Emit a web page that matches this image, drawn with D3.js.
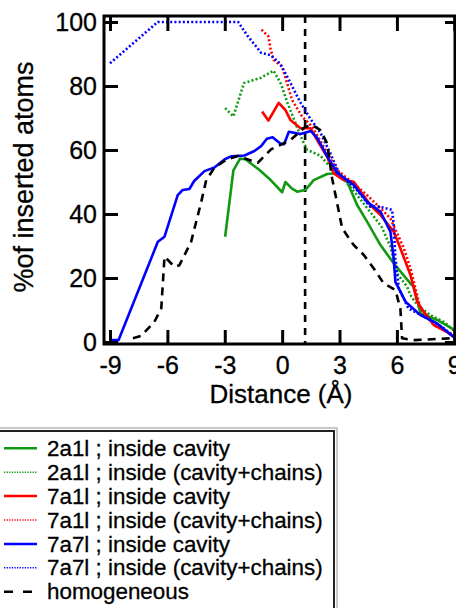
<!DOCTYPE html>
<html>
<head>
<meta charset="utf-8">
<script src="https://cdn.jsdelivr.net/npm/d3@7"></script>
<style>
  html, body { margin: 0; padding: 0; background: #fff; }
  svg { display: block; font-family: "Liberation Sans", Arial, Helvetica, sans-serif; }
  text { stroke: #000; stroke-width: 0.3px; }
</style>
</head>
<body>
<svg id="chart" width="456" height="608"></svg>
<script>
// ---------------- data ----------------
const xTicks = [-9, -6, -3, 0, 3, 6, 9];
const xTickLabels = ["-9", "-6", "-3", "0", "3", "6", "9"];
const yTicks = [0, 20, 40, 60, 80, 100];
const yTickLabels = ["0", "20", "40", "60", "80", "100"];
const xTitle = "Distance (Å)";
const yTitle = "%of inserted atoms";
const markerX = 1.2;

const green_cav_x = [-2.98, -2.55, -2.2, -1.92, -1.2, -0.6, 0, 0.17, 0.5, 0.78, 1.22, 1.65, 2.35, 2.9, 3.4, 3.92, 4.44, 5.14, 5.83, 6.7, 6.88, 7.23, 8.1, 9.05];
const green_cav_y = [32.9, 53.6, 57.3, 57.1, 53.8, 50.6, 46.8, 50.0, 48.0, 47.0, 47.5, 50.6, 52.5, 52.8, 50.1, 42.8, 37.6, 30.3, 24.6, 18.3, 17.3, 9.0, 6.9, 3.6];

const green_all_x = [-2.98, -2.55, -2.0, -1.1, -0.45, -0.05, 0.26, 0.96, 1.3, 2.0, 2.35, 2.79, 3.2, 3.92, 4.79, 5.2, 5.66, 6.0, 6.53, 6.7, 7.06, 7.75, 8.45, 9.05];
const green_all_y = [73.1, 70.5, 80.9, 82.6, 84.8, 80.5, 75.0, 64.4, 60.1, 58.2, 55.8, 53.7, 51.0, 45.9, 39.2, 36.0, 29.8, 21.5, 17.3, 14.7, 11.6, 8.4, 6.3, 3.2];

const red_cav_x = [-1.05, -0.72, -0.18, 0.17, 0.43, 0.96, 1.48, 1.83, 2.35, 2.7, 3.22, 3.74, 4.09, 4.61, 5.14, 5.83, 6.18, 6.71, 7.06, 7.4, 7.93, 8.6, 9.05];
const red_cav_y = [72.0, 69.2, 74.7, 72.5, 69.4, 66.8, 66.8, 63.1, 57.9, 52.7, 50.6, 50.1, 47.2, 42.8, 39.7, 34.5, 29.3, 20.9, 12.6, 9.5, 5.3, 3.2, 1.2];

const red_all_x = [-1.08, -0.72, -0.6, -0.44, 0, 0.26, 0.52, 1.05, 1.57, 2.17, 2.87, 3.4, 4.44, 5.14, 5.66, 6.36, 6.71, 7.23, 7.93, 9.05];
const red_all_y = [97.6, 95.5, 91.4, 88.1, 86.1, 80.8, 75.6, 70.4, 67.3, 61.0, 53.75, 51.2, 45.9, 41.8, 38.6, 29.3, 23.0, 10.5, 5.3, 2.0];

const blue_cav_x = [-9.03, -8.55, -6.5, -6.15, -5.46, -5.2, -4.85, -4.6, -4.06, -3.54, -3.0, -2.67, -1.97, -1.45, -1.1, -0.8, -0.5, -0.1, 0.1, 0.35, 0.96, 1.5, 1.83, 2.35, 2.87, 3.74, 4.44, 5.14, 5.66, 5.83, 5.92, 6.45, 7.23, 8.1, 9.05];
const blue_cav_y = [0.6, 0.6, 31.3, 32.9, 45.9, 47.5, 47.8, 50.3, 53.4, 54.5, 57.1, 58.0, 58.3, 59.7, 61.2, 63.5, 64.0, 62.0, 61.8, 65.7, 65.0, 65.9, 63.8, 58.1, 52.9, 49.1, 43.8, 40.7, 34.5, 26.2, 18.8, 12.6, 8.4, 5.8, 1.2];

const blue_all_x = [-9.0, -6.5, -2.3, -1.8, -1.1, -0.6, -0.1, 0.43, 0.96, 1.48, 2.0, 2.5, 3.0, 3.9, 4.6, 5.1, 5.75, 5.83, 5.92, 6.1, 6.6, 7.6, 8.45, 9.05];
const blue_all_y = [87.1, 100, 100, 95.6, 90.4, 89.6, 87.0, 81.0, 74.8, 69.7, 65.4, 59.2, 52.5, 47.5, 42.3, 42.3, 41.25, 36.6, 26.2, 16.8, 10.5, 7.4, 4.3, 1.2];

const homo_x = [-7.8, -7.37, -6.68, -6.32, -6.15, -5.63, -5.37, -4.76, -4.23, -3.97, -3.54, -2.9, -2.32, -1.28, -0.58, 0.43, 1.22, 1.57, 2.0, 2.35, 2.61, 2.79, 3.14, 3.74, 4.27, 4.79, 5.31, 5.92, 6.18, 6.27, 6.88, 9.05];
const homo_y = [1.15, 1.9, 6.3, 10.5, 26.7, 23.5, 24.0, 31.3, 43.8, 50.6, 54.5, 57.0, 58.1, 56.0, 60.2, 63.1, 67.3, 67.8, 66.2, 62.1, 51.2, 45.9, 35.5, 30.3, 27.2, 23.0, 18.3, 16.25, 10.5, 1.15, 0.6, 1.2];

const seriesNames = [
  "2a1l ; inside cavity",
  "2a1l ; inside (cavity+chains)",
  "7a1l ; inside cavity",
  "7a1l ; inside (cavity+chains)",
  "7a7l ; inside cavity",
  "7a7l ; inside (cavity+chains)",
  "homogeneous"
];
const seriesX = [green_cav_x, green_all_x, red_cav_x, red_all_x, blue_cav_x, blue_all_x, homo_x];
const seriesY = [green_cav_y, green_all_y, red_cav_y, red_all_y, blue_cav_y, blue_all_y, homo_y];

// ---------------- styles ----------------
const GREEN = "#119a11", RED = "#ff0000", BLUE = "#0000ff", BLACK = "#000";
const styles = [
  {color: GREEN, dash: null, w: 2.6},
  {color: GREEN, dash: "2,2.2", w: 2.6},
  {color: RED, dash: null, w: 2.6},
  {color: RED, dash: "2,2.2", w: 2.6},
  {color: BLUE, dash: null, w: 2.6},
  {color: BLUE, dash: "2,2.2", w: 2.6},
  {color: BLACK, dash: "8,6", w: 2.6}
];
const legendStyles = [
  {dash: null, w: 2.5},
  {dash: "1.3,1.3", w: 1.6},
  {dash: null, w: 2.5},
  {dash: "1.3,1.3", w: 1.6},
  {dash: null, w: 2.5},
  {dash: "1.3,1.3", w: 1.6},
  {dash: "9,10", w: 2.6}
];

// ---------------- layout ----------------
const svg = d3.select("#chart");
const L = 104, R = 455, T = 16, B = 344;

const x = d3.scaleLinear().domain([-9, 9]).range([110, 454.3]);
const y = d3.scaleLinear().domain([0, 100]).range([342, 22]);

svg.append("defs").append("clipPath").attr("id", "plotclip")
  .append("rect").attr("x", L).attr("y", T).attr("width", R - L).attr("height", B - T);

// lines
const plot = svg.append("g").attr("clip-path", "url(#plotclip)");
const line = d3.line().x(d => x(d[0])).y(d => y(d[1]));

// vertical marker
plot.append("line")
  .attr("x1", x(markerX)).attr("x2", x(markerX))
  .attr("y1", T).attr("y2", B)
  .attr("stroke", BLACK).attr("stroke-width", 2.6)
  .attr("stroke-dasharray", "7,6");

seriesNames.forEach((name, i) => {
  const pts = seriesX[i].map((v, j) => [v, seriesY[i][j]]);
  plot.append("path")
    .attr("d", line(pts))
    .attr("fill", "none")
    .attr("stroke", styles[i].color)
    .attr("stroke-width", styles[i].w)
    .attr("stroke-dasharray", styles[i].dash)
    .attr("stroke-linejoin", "round");
});

// axes
function styleAxis(g) {
  g.select(".domain").remove();
  g.selectAll(".tick line").attr("stroke", BLACK).attr("stroke-width", 3);
  g.selectAll(".tick text").attr("fill", BLACK).style("font-size", "25px");
}
svg.append("g").attr("transform", `translate(${L},0)`)
  .call(d3.axisLeft(y).tickValues(yTicks).tickSize(-14).tickPadding(7)
        .tickFormat((d, i) => yTickLabels[i]))
  .call(styleAxis);
svg.append("g").attr("transform", `translate(${R},0)`)
  .call(d3.axisRight(y).tickValues(yTicks).tickSize(-10).tickFormat(""))
  .call(styleAxis);
svg.append("g").attr("transform", `translate(0,${B})`)
  .call(d3.axisBottom(x).tickValues(xTicks).tickSize(-14).tickPadding(12)
        .tickFormat((d, i) => xTickLabels[i]))
  .call(styleAxis);
svg.append("g").attr("transform", `translate(0,${T})`)
  .call(d3.axisTop(x).tickValues(xTicks).tickSize(-15).tickFormat(""))
  .call(styleAxis);

// frame
svg.append("rect").attr("x", L).attr("y", T).attr("width", R - L).attr("height", B - T)
  .attr("fill", "none").attr("stroke", BLACK).attr("stroke-width", 3);

// titles
svg.append("text").attr("x", 281).attr("y", 403)
  .attr("text-anchor", "middle").style("font-size", "26px").text(xTitle);
svg.append("text").attr("transform", "translate(33,177) rotate(-90)")
  .attr("text-anchor", "middle").style("font-size", "27px").text(yTitle);

// legend
const lg = svg.append("g");
lg.append("rect").attr("x", -4).attr("y", 428).attr("width", 341).attr("height", 300)
  .attr("fill", "none").attr("stroke", "#b8b8b8").attr("stroke-width", 1.5);
lg.append("rect").attr("x", -2).attr("y", 431).attr("width", 336).attr("height", 300)
  .attr("fill", "#fff").attr("stroke", "#222").attr("stroke-width", 2);

seriesNames.forEach((name, i) => {
  const cy = 448.3 + i * 23.9;
  lg.append("line").attr("x1", 4).attr("x2", 37).attr("y1", cy).attr("y2", cy)
    .attr("stroke", styles[i].color)
    .attr("stroke-width", legendStyles[i].w)
    .attr("stroke-dasharray", legendStyles[i].dash);
  lg.append("text").attr("x", 47).attr("y", cy + 7.6)
    .style("font-size", "22.4px").attr("fill", BLACK).text(name);
});
</script>
</body>
</html>
